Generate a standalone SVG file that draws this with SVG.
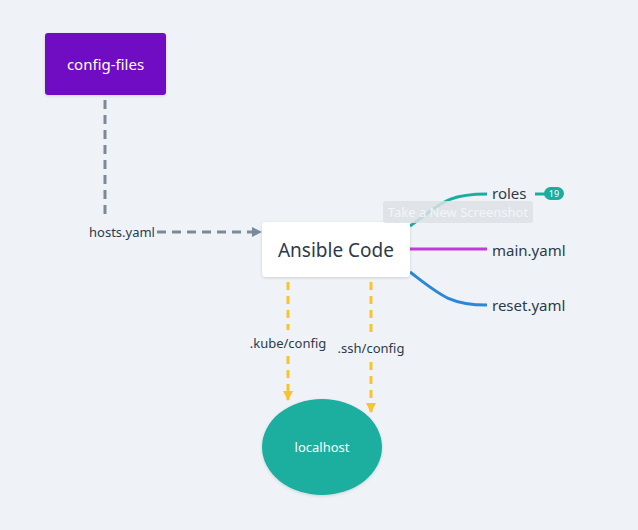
<svg xmlns="http://www.w3.org/2000/svg" width="638" height="530" viewBox="0 0 638 530">
<defs>
<style>
.t{font-family:"Noto Sans","Open Sans",sans-serif;fill:#2d3a4a}
.dg{stroke:#7a8a99;stroke-width:3;fill:none;stroke-dasharray:9,6}
.dy{stroke:#f7c32e;stroke-width:3;fill:none;stroke-dasharray:8,6}
</style>
<marker id="ag" viewBox="0 0 10 10" refX="9" refY="5" markerWidth="3.5" markerHeight="3.5" orient="auto"><path d="M0,0L10,5L0,10z" fill="#7a8a99"/></marker>
<marker id="ay" viewBox="0 0 10 10" refX="9" refY="5" markerWidth="3.5" markerHeight="3.5" orient="auto"><path d="M0,0L10,5L0,10z" fill="#f7c32e"/></marker>
<filter id="sh" x="-20%" y="-20%" width="140%" height="140%"><feDropShadow dx="0" dy="1" stdDeviation="1.5" flood-opacity="0.15"/></filter>
</defs>
<rect width="638" height="530" fill="#eff3f7"/>
<g id="connectors">
<path class="dg" d="M105,100V220"/>
<path class="dg" d="M157,232H261" marker-end="url(#ag)"/>
<path class="dy" d="M288,282V330M288,356V400" marker-end="url(#ay)"/>
<path class="dy" d="M371,282V336M371,362V412" marker-end="url(#ay)"/>
<path d="M410,226C440,205 445,194 487,194" stroke="#1aae9f" stroke-width="3" fill="none"/>
<path d="M410,249H487" stroke="#c43ad6" stroke-width="3" fill="none"/>
<path d="M410,272C440,295 450,305 487,305" stroke="#2b88d8" stroke-width="3" fill="none"/>
<path d="M535,194H546" stroke="#1aae9f" stroke-width="3"/>
<text class="t" x="122" y="237" font-size="13" text-anchor="middle">hosts.yaml</text>
<text class="t" x="288" y="348" font-size="13" text-anchor="middle">.kube/config</text>
<text class="t" x="371" y="353" font-size="13" text-anchor="middle">.ssh/config</text>
</g>
<g id="config-files">
<rect x="45" y="33" width="121" height="62" rx="3" fill="#7010c4" filter="url(#sh)"/>
<text class="t" x="105.5" y="70" font-size="15" text-anchor="middle" style="fill:#fff">config-files</text>
</g>
<g id="ansible-code">
<rect x="262" y="222" width="148" height="55" rx="4" fill="#fff" filter="url(#sh)"/>
<text class="t" x="336" y="257" font-size="19" text-anchor="middle">Ansible Code</text>
</g>
<g id="roles">
<text class="t" x="492" y="199" font-size="15">roles</text>
<rect x="544" y="187" width="20" height="13" rx="6.5" fill="#1aae9f"/>
<text class="t" x="554" y="197" font-size="9" text-anchor="middle" style="fill:#fff">19</text>
</g>
<g id="main-yaml">
<text class="t" x="492" y="256" font-size="15">main.yaml</text>
</g>
<g id="reset-yaml">
<text class="t" x="492" y="311" font-size="15">reset.yaml</text>
</g>
<g id="localhost">
<ellipse cx="322" cy="447" rx="60" ry="48" fill="#1aae9f" filter="url(#sh)"/>
<text class="t" x="322" y="452" font-size="13" text-anchor="middle" style="fill:#fff">localhost</text>
</g>
<g id="tooltip">
<rect x="383" y="201" width="150" height="22" rx="3" fill="#dde1e5" opacity="0.85"/>
<text class="t" x="458" y="217" font-size="13" text-anchor="middle" style="fill:#f3f5f7">Take a New Screenshot</text>
</g>
</svg>
